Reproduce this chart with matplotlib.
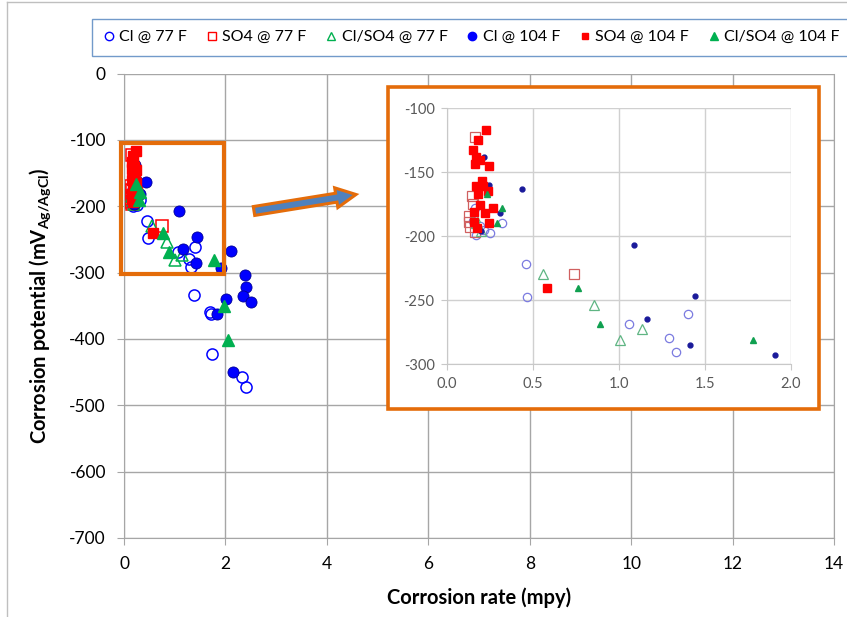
import matplotlib
matplotlib.use("Agg")
import matplotlib.pyplot as plt
from matplotlib.patches import Rectangle, FancyArrow
from matplotlib.lines import Line2D

plt.rcParams['font.family'] = ['Lato', 'DejaVu Sans']
plt.rcParams['mathtext.fontset'] = 'custom'
plt.rcParams['mathtext.bf'] = 'Lato:bold'
plt.rcParams['mathtext.rm'] = 'Lato'
plt.rcParams['axes.unicode_minus'] = False

# data: corrosion rate (mpy) vs corrosion potential (mV)
cl77_x = [0.17, 0.25, 0.32, 0.15, 0.19, 0.215, 0.16, 0.46, 0.465, 1.06, 1.29, 1.33, 1.40, 1.39, 1.70, 1.72, 1.74, 2.33, 2.41]
cl77_y = [-199, -198, -190, -188, -192, -195, -178, -222, -248, -269, -280, -291, -261, -334, -360, -363, -422, -457, -473]

so477_x = [0.165, 0.144, 0.15, 0.13, 0.13, 0.135, 0.16, 0.74]
so477_y = [-123, -169, -175, -184, -189, -193, -197, -230]

clso477_x = [0.17, 0.20, 0.16, 0.556, 0.855, 1.006, 1.136]
clso477_y = [-190, -196, -185, -230, -254, -281, -273]

cl104_x = [0.217, 0.244, 0.306, 0.434, 0.20, 1.089, 1.163, 1.444, 1.41, 1.905, 2.10, 2.39, 2.41, 2.34, 2.50, 2.01, 1.83, 2.14]
cl104_y = [-138, -160, -182, -163, -196, -207, -265, -247, -285, -293, -268, -304, -321, -336, -344, -340, -363, -450]

so4104_x = [0.227, 0.178, 0.149, 0.169, 0.163, 0.194, 0.246, 0.203, 0.167, 0.211, 0.182, 0.236, 0.192, 0.266, 0.221, 0.159, 0.242, 0.157, 0.174, 0.58]
so4104_y = [-117, -125, -133, -138, -144, -141, -145, -157, -161, -161, -167, -165, -176, -178, -182, -181, -190, -189, -194, -241]

clso4104_x = [0.234, 0.318, 0.289, 0.76, 0.89, 1.777, 1.97, 2.045]
clso4104_y = [-167, -178, -190, -241, -268.5, -281.5, -350, -402]

labels = ['Cl @ 77 F', 'SO4 @ 77 F', 'Cl/SO4 @ 77 F', 'Cl @ 104 F', 'SO4 @ 104 F', 'Cl/SO4 @ 104 F']

blue = '#0000FF'
red = '#FF0000'
green = '#00B050'
orange = '#E46C0A'
grid = '#A6A6A6'

fig = plt.figure(figsize=(8.47, 6.17), dpi=100)

# outer chart frame (cut off)
fig.add_artist(Line2D([7/847, 7/847], [0, 1 - 2/617], transform=fig.transFigure, color='#BFBFBF', lw=1))
fig.add_artist(Line2D([7/847, 1], [1 - 2/617, 1 - 2/617], transform=fig.transFigure, color='#BFBFBF', lw=1))

ax = fig.add_axes([124/847, 1 - 538/617, 710/847, 464.5/617])
ms = 8
ax.plot(cl77_x, cl77_y, 'o', ms=ms, mfc='none', mec=blue, mew=1.1, ls='none')
ax.plot(so477_x, so477_y, 's', ms=ms, mfc='none', mec=red, mew=1.1, ls='none')
ax.plot(clso477_x, clso477_y, '^', ms=ms, mfc='none', mec=green, mew=1.1, ls='none')
ax.plot(cl104_x, cl104_y, 'o', ms=ms, mfc=blue, mec='#000099', mew=0.6, ls='none')
ax.plot(so4104_x, so4104_y, 's', ms=ms - 1, mfc=red, mec=red, ls='none')
ax.plot(clso4104_x, clso4104_y, '^', ms=ms, mfc=green, mec=green, ls='none')

ax.set_xlim(0, 14)
ax.set_ylim(-700, 0)
ax.set_xticks(range(0, 15, 2))
ax.set_yticks(range(-700, 1, 100))
ax.grid(True, color=grid, lw=1)
ax.set_axisbelow(True)
ax.spines['top'].set_visible(False)
for s in ['left', 'bottom', 'right']:
    ax.spines[s].set_color(grid)
ax.tick_params(length=5, color=grid, labelsize=12.5, pad=8)
ax.set_xlabel('Corrosion rate (mpy)', fontsize=14.5, fontweight='bold', labelpad=11)
ax.set_ylabel('Corrosion potential (mV$_{\\mathbf{Ag/AgCl}}$)', fontsize=14.5, fontweight='bold', labelpad=12)

# highlight box around the zoomed region
ax.add_patch(Rectangle((-0.05, -302), 2.02, 197, fill=False, ec=orange, lw=3, zorder=5, clip_on=False))

# arrow pointing to the inset
arr = FancyArrow(2.54, 4.06, 1.02, 0.165, width=0.09, head_width=0.2, head_length=0.2,
                 length_includes_head=True, transform=fig.dpi_scale_trans,
                 fc='#4F81BD', ec=orange, lw=2.2)
fig.add_artist(arr)

# inset frame
fig.add_artist(Rectangle((388/847, 1 - 409/617), 431/847, 322/617, transform=fig.transFigure,
                         fc='white', ec=orange, lw=2.6, zorder=2))

ins = fig.add_axes([447/847, 1 - 364/617, 344/847, 256/617], zorder=3)
ims = 3.5
ins.plot(cl77_x, cl77_y, 'o', ms=ims + 2.5, mfc='none', mec='#7B7BE0', mew=0.9, ls='none')
ins.plot(so477_x, so477_y, 's', ms=ims + 3, mfc='none', mec='#D06060', mew=0.9, ls='none')
ins.plot(clso477_x, clso477_y, '^', ms=ims + 3, mfc='none', mec='#5FB583', mew=0.9, ls='none')
ins.plot(cl104_x, cl104_y, 'o', ms=ims, mfc='#1A1A9A', mec='#1A1A9A', ls='none')
ins.plot(so4104_x, so4104_y, 's', ms=ims + 2, mfc=red, mec=red, ls='none')
ins.plot(clso4104_x, clso4104_y, '^', ms=ims + 1, mfc='#10A050', mec='#10A050', ls='none')
ins.set_xlim(0, 2)
ins.set_ylim(-300, -100)
ins.set_xticks([0, 0.5, 1.0, 1.5, 2.0])
ins.set_xticklabels(['0.0', '0.5', '1.0', '1.5', '2.0'])
ins.set_yticks([-300, -250, -200, -150, -100])
ins.grid(True, color='#D0D0D0', lw=1)
ins.set_axisbelow(True)
ins.spines['top'].set_visible(False)
ins.spines['right'].set_visible(False)
ins.spines['left'].set_color('#C8C8C8')
ins.spines['bottom'].set_color('#C8C8C8')
ins.tick_params(length=4, color='#C8C8C8', labelsize=10.5, labelcolor='#595959', pad=5)

# legend
handles = [
    Line2D([], [], marker='o', ls='none', ms=6, mfc='none', mec=blue),
    Line2D([], [], marker='s', ls='none', ms=6, mfc='none', mec=red),
    Line2D([], [], marker='^', ls='none', ms=6, mfc='none', mec=green),
    Line2D([], [], marker='o', ls='none', ms=6, mfc=blue, mec=blue),
    Line2D([], [], marker='s', ls='none', ms=5, mfc=red, mec=red),
    Line2D([], [], marker='^', ls='none', ms=6, mfc=green, mec=green),
]
leg = fig.legend(handles, labels, loc='upper left', bbox_to_anchor=(84/847, 1 - 11/617),
                 ncol=6, fontsize=11.5, frameon=True, fancybox=False,
                 handlelength=0.7, handletextpad=0.3, columnspacing=1.2, borderpad=0.7)
leg.get_frame().set_edgecolor('#4F81BD')
leg.get_frame().set_linewidth(1)

fig.savefig('out.png', dpi=100)
